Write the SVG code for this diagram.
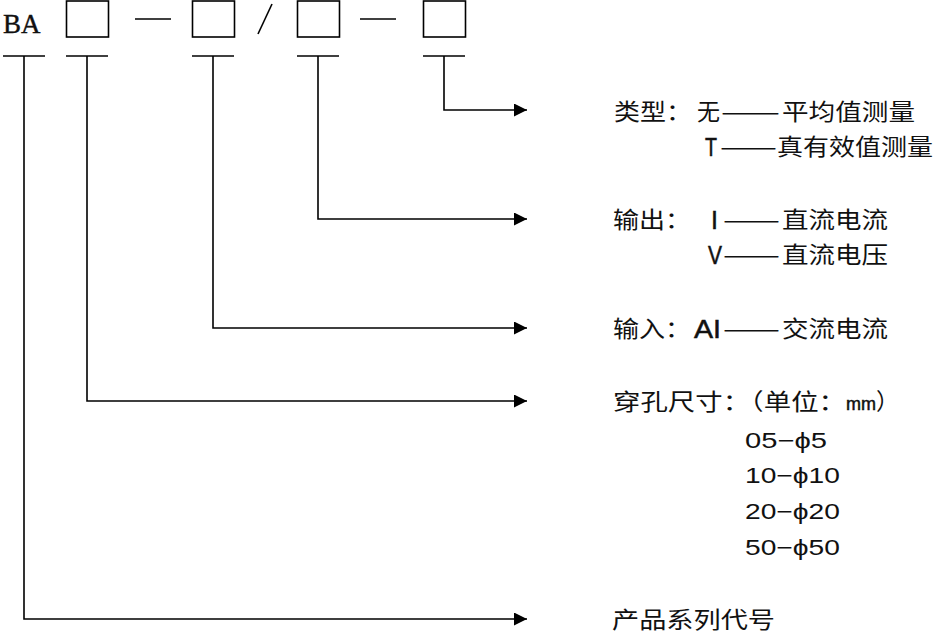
<svg xmlns="http://www.w3.org/2000/svg" width="937" height="635" viewBox="0 0 937 635">
<style>
.ln{stroke:#000;stroke-width:1.6;fill:none}
.bx{stroke:#000;stroke-width:1.6;fill:#fff}
.cn{font-family:"Noto Sans CJK SC","Noto Sans",sans-serif;font-size:23px;fill:#111}
.lt{font-family:"Liberation Sans","Noto Sans",sans-serif;font-size:25px;fill:#111;stroke:#111;stroke-width:0.5}
.nm{font-family:"Liberation Sans","DejaVu Sans",sans-serif;font-size:22px;fill:#111}
</style>
<defs>
<marker id="ah" markerUnits="userSpaceOnUse" markerWidth="14" markerHeight="14" refX="13" refY="6.5" orient="auto">
<path d="M0,0 L13,6.5 L0,13 z" fill="#000"/>
</marker>
</defs>
<g id="code">
<text x="3" y="33" font-family="Liberation Serif,serif" font-size="27" fill="#111" stroke="#111" stroke-width="0.4">BA</text>
<rect class="bx" x="66.5" y="1" width="42" height="36"/>
<line class="ln" x1="135" y1="19" x2="171" y2="19" stroke-width="2"/>
<rect class="bx" x="192.5" y="1" width="42" height="36"/>
<line class="ln" x1="258" y1="34" x2="272" y2="4" stroke-width="2"/>
<rect class="bx" x="297.5" y="1" width="42" height="36"/>
<line class="ln" x1="360" y1="19" x2="396" y2="19" stroke-width="2"/>
<rect class="bx" x="423.5" y="1" width="42" height="36"/>
<line class="ln" x1="3" y1="56" x2="45" y2="56" stroke-width="2"/>
<line class="ln" x1="66" y1="56" x2="108" y2="56" stroke-width="2"/>
<line class="ln" x1="192" y1="56" x2="234" y2="56" stroke-width="2"/>
<line class="ln" x1="297" y1="56" x2="339" y2="56" stroke-width="2"/>
<line class="ln" x1="423" y1="56" x2="465" y2="56" stroke-width="2"/>
</g>
<g id="connectors">
<polyline class="ln" points="444,56 444,110 527,110" marker-end="url(#ah)"/>
<polyline class="ln" points="318,56 318,219 527,219" marker-end="url(#ah)"/>
<polyline class="ln" points="213,56 213,328 527,328" marker-end="url(#ah)"/>
<polyline class="ln" points="87,56 87,401 527,401" marker-end="url(#ah)"/>
<polyline class="ln" points="24,56 24,619 527,619" marker-end="url(#ah)"/>
</g>
<g id="type">
<text class="cn" x="614" y="120" textLength="78" lengthAdjust="spacingAndGlyphs">类型：</text>
<text class="cn" x="697" y="120">无</text>
<text class="cn" x="721" y="120" textLength="59" lengthAdjust="spacingAndGlyphs">——</text>
<text class="cn" x="782" y="120" textLength="133" lengthAdjust="spacingAndGlyphs">平均值测量</text>
<text class="lt" x="705" y="156" textLength="12" lengthAdjust="spacingAndGlyphs">T</text>
<text class="cn" x="720" y="155" textLength="57" lengthAdjust="spacingAndGlyphs">——</text>
<text class="cn" x="777" y="155" textLength="156" lengthAdjust="spacingAndGlyphs">真有效值测量</text>
</g>
<g id="output">
<text class="cn" x="613" y="228" textLength="78" lengthAdjust="spacingAndGlyphs">输出：</text>
<text class="lt" x="711" y="229">I</text>
<text class="cn" x="723" y="228" textLength="57" lengthAdjust="spacingAndGlyphs">——</text>
<text class="cn" x="782" y="228" textLength="106" lengthAdjust="spacingAndGlyphs">直流电流</text>
<text class="lt" x="708" y="264" textLength="14" lengthAdjust="spacingAndGlyphs">V</text>
<text class="cn" x="723" y="263" textLength="57" lengthAdjust="spacingAndGlyphs">——</text>
<text class="cn" x="782" y="263" textLength="106" lengthAdjust="spacingAndGlyphs">直流电压</text>
</g>
<g id="input">
<text class="cn" x="613" y="337" textLength="78" lengthAdjust="spacingAndGlyphs">输入：</text>
<text class="lt" x="694" y="338" textLength="27" lengthAdjust="spacingAndGlyphs">AI</text>
<text class="cn" x="723" y="337" textLength="57" lengthAdjust="spacingAndGlyphs">——</text>
<text class="cn" x="782" y="337" textLength="106" lengthAdjust="spacingAndGlyphs">交流电流</text>
</g>
<g id="size">
<text class="cn" x="613" y="410" textLength="233" lengthAdjust="spacingAndGlyphs">穿孔尺寸：（单位：</text>
<text class="cn" x="846" y="410"><tspan style="font-family:'Liberation Sans',sans-serif;font-size:18px;stroke:#111;stroke-width:0.5">mm</tspan>）</text>
<text class="nm" x="745" y="448" textLength="82" lengthAdjust="spacingAndGlyphs">05−ϕ5</text>
<text class="nm" x="745" y="483" textLength="95" lengthAdjust="spacingAndGlyphs">10−ϕ10</text>
<text class="nm" x="745" y="519" textLength="95" lengthAdjust="spacingAndGlyphs">20−ϕ20</text>
<text class="nm" x="745" y="555" textLength="95" lengthAdjust="spacingAndGlyphs">50−ϕ50</text>
</g>
<g id="series">
<text class="cn" x="612" y="628" textLength="163" lengthAdjust="spacingAndGlyphs">产品系列代号</text>
</g>
</svg>
